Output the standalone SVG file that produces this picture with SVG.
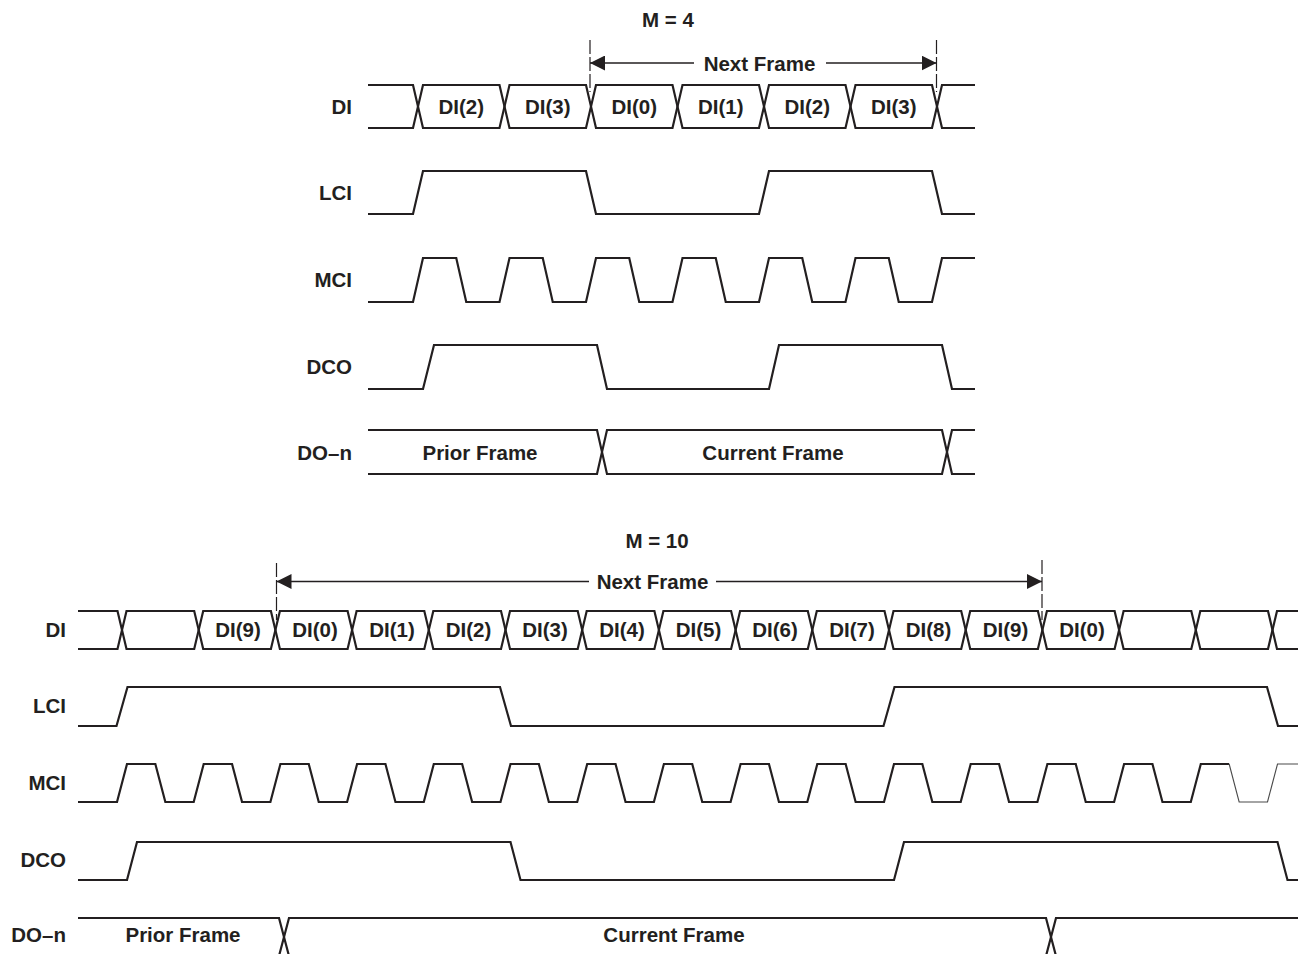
<svg xmlns="http://www.w3.org/2000/svg" width="1298" height="954" viewBox="0 0 1298 954">
<style>
  .w { fill: none; stroke: #231f20; stroke-width: 2.2; stroke-linejoin: miter; }
  .thin { fill: none; stroke: #4a4a4a; stroke-width: 1.1; }
  .t { font-family: "Liberation Sans", Arial, sans-serif; font-weight: bold; font-size: 20.5px; fill: #231f20; }
  .c { text-anchor: middle; }
  .r { text-anchor: end; }
  .dim { fill: none; stroke: #231f20; stroke-width: 1.3; }
  .dash { fill: none; stroke: #231f20; stroke-width: 1.2; stroke-dasharray: 14 3; }
</style>
<defs>
  <marker id="ah" viewBox="0 0 15 15" refX="15" refY="7.5" markerWidth="15" markerHeight="15" markerUnits="userSpaceOnUse" orient="auto">
    <path d="M0,0 L15,7.5 L0,15 Z" fill="#231f20"/>
  </marker>
</defs>
<rect width="1298" height="954" fill="#ffffff"/>

<!-- ===== Top diagram: M = 4 ===== -->
<g id="top-title"><text class="t c" x="668" y="27">M = 4</text></g>

<g id="top-DI">
  <text class="t r" x="352" y="113.5">DI</text>
  <path class="w" d="M368,85 H413 L423,128 H499.5 L509.5,85 H586 L596,128 H672.5 L682.5,85 H759 L769,128 H845.5 L855.5,85 H932 L942,128 H975"/>
  <path class="w" d="M368,128 H413 L423,85 H499.5 L509.5,128 H586 L596,85 H672.5 L682.5,128 H759 L769,85 H845.5 L855.5,128 H932 L942,85 H975"/>
  <text class="t c" x="461.25" y="113.5">DI(2)</text>
  <text class="t c" x="547.75" y="113.5">DI(3)</text>
  <text class="t c" x="634.25" y="113.5">DI(0)</text>
  <text class="t c" x="720.75" y="113.5">DI(1)</text>
  <text class="t c" x="807.25" y="113.5">DI(2)</text>
  <text class="t c" x="893.75" y="113.5">DI(3)</text>
</g>

<g id="top-LCI">
  <text class="t r" x="352" y="200">LCI</text>
  <path class="w" d="M368,214 H413 L423,171 H586 L596,214 H759 L769,171 H932 L942,214 H975"/>
</g>

<g id="top-MCI">
  <text class="t r" x="352" y="287">MCI</text>
  <path class="w" d="M368,302 H413 L423,258 H456.25 L466.25,302 H499.5 L509.5,258 H542.75 L552.75,302 H586 L596,258 H629.25 L639.25,302 H672.5 L682.5,258 H715.75 L725.75,302 H759 L769,258 H802.25 L812.25,302 H845.5 L855.5,258 H888.75 L898.75,302 H932 L942,258 H975"/>
</g>

<g id="top-DCO">
  <text class="t r" x="352" y="374">DCO</text>
  <path class="w" d="M368,389 H423 L434,345 H597 L607,389 H769 L779,345 H942 L952,389 H975"/>
</g>

<g id="top-DOn">
  <text class="t r" x="352" y="460">DO–n</text>
  <path class="w" d="M368,430 H597 L607,474 H942 L952,430 H975"/>
  <path class="w" d="M368,474 H597 L607,430 H942 L952,474 H975"/>
  <text class="t c" x="480" y="460">Prior Frame</text>
  <text class="t c" x="773" y="460">Current Frame</text>
</g>

<!-- ===== Bottom diagram: M = 10 ===== -->
<g id="bottom-title"><text class="t c" x="657" y="548">M = 10</text></g>

<g id="bottom-DI">
  <text class="t r" x="66" y="637">DI</text>
  <path class="w" d="M78,611 H117.5 L126.5,649 H194.2 L203.2,611 H270.9 L279.9,649 H347.6 L356.6,611 H424.3 L433.3,649 H501 L510,611 H577.7 L586.7,649 H654.4 L663.4,611 H731.1 L740.1,649 H807.8 L816.8,611 H884.5 L893.5,649 H961.2 L970.2,611 H1037.9 L1046.9,649 H1114.6 L1123.6,611 H1191.3 L1200.3,649 H1268 L1277,611 H1298"/>
  <path class="w" d="M78,649 H117.5 L126.5,611 H194.2 L203.2,649 H270.9 L279.9,611 H347.6 L356.6,649 H424.3 L433.3,611 H501 L510,649 H577.7 L586.7,611 H654.4 L663.4,649 H731.1 L740.1,611 H807.8 L816.8,649 H884.5 L893.5,611 H961.2 L970.2,649 H1037.9 L1046.9,611 H1114.6 L1123.6,649 H1191.3 L1200.3,611 H1268 L1277,649 H1298"/>
  <text class="t c" x="238" y="637">DI(9)</text>
  <text class="t c" x="315" y="637">DI(0)</text>
  <text class="t c" x="392" y="637">DI(1)</text>
  <text class="t c" x="468.5" y="637">DI(2)</text>
  <text class="t c" x="545" y="637">DI(3)</text>
  <text class="t c" x="622" y="637">DI(4)</text>
  <text class="t c" x="698.5" y="637">DI(5)</text>
  <text class="t c" x="775" y="637">DI(6)</text>
  <text class="t c" x="852" y="637">DI(7)</text>
  <text class="t c" x="928.5" y="637">DI(8)</text>
  <text class="t c" x="1005.5" y="637">DI(9)</text>
  <text class="t c" x="1082" y="637">DI(0)</text>
</g>

<g id="bottom-LCI">
  <text class="t r" x="66" y="713">LCI</text>
  <path class="w" d="M78,726 H116.5 L127.5,687 H500 L511,726 H883.5 L894.5,687 H1267 L1278,726 H1298"/>
</g>

<g id="bottom-MCI">
  <text class="t r" x="66" y="790">MCI</text>
  <path class="w" d="M78,802 H117 L127,764 H155.35 L165.35,802 H193.7 L203.7,764 H232.05 L242.05,802 H270.4 L280.4,764 H308.75 L318.75,802 H347.1 L357.1,764 H385.45 L395.45,802 H423.8 L433.8,764 H462.15 L472.15,802 H500.5 L510.5,764 H538.85 L548.85,802 H577.2 L587.2,764 H615.55 L625.55,802 H653.9 L663.9,764 H692.25 L702.25,802 H730.6 L740.6,764 H768.95 L778.95,802 H807.3 L817.3,764 H845.65 L855.65,802 H884 L894,764 H922.35 L932.35,802 H960.7 L970.7,764 H999.05 L1009.05,802 H1037.4 L1047.4,764 H1075.75 L1085.75,802 H1114.1 L1124.1,764 H1152.45 L1162.45,802 H1190.8 L1200.8,764 H1229.15"/>
  <path class="thin" d="M1229.15,764 L1239.15,802 H1267.5 L1277.5,764 H1298"/>
</g>

<g id="bottom-DCO">
  <text class="t r" x="66" y="867">DCO</text>
  <path class="w" d="M78,880 H127 L137,842 H510.5 L520.5,880 H894 L904,842 H1277.5 L1287.5,880 H1298"/>
</g>

<g id="bottom-DOn">
  <text class="t r" x="66" y="942">DO–n</text>
  <path class="w" d="M78,918 H279 L289,956 H1046 L1056,918 H1298"/>
  <path class="w" d="M78,956 H279 L289,918 H1046 L1056,956 H1298"/>
  <text class="t c" x="183" y="942">Prior Frame</text>
  <text class="t c" x="674" y="942">Current Frame</text>
</g>

<!-- ===== Dimension arrows (connectors) ===== -->
<g id="connectors">
  <line class="dash" x1="590" y1="40" x2="590" y2="92"/>
  <line class="dash" x1="936.5" y1="40" x2="936.5" y2="92"/>
  <line class="dim" x1="694" y1="63" x2="590" y2="63" marker-end="url(#ah)"/>
  <line class="dim" x1="826" y1="63" x2="936.5" y2="63" marker-end="url(#ah)"/>
  <text class="t c" x="759.5" y="70.5">Next Frame</text>

  <line class="dash" x1="276.5" y1="563" x2="276.5" y2="620"/>
  <line class="dash" x1="1042" y1="560" x2="1042" y2="620"/>
  <line class="dim" x1="589" y1="581.5" x2="276.5" y2="581.5" marker-end="url(#ah)"/>
  <line class="dim" x1="716" y1="581.5" x2="1042" y2="581.5" marker-end="url(#ah)"/>
  <text class="t c" x="652.5" y="588.5">Next Frame</text>
</g>
</svg>
